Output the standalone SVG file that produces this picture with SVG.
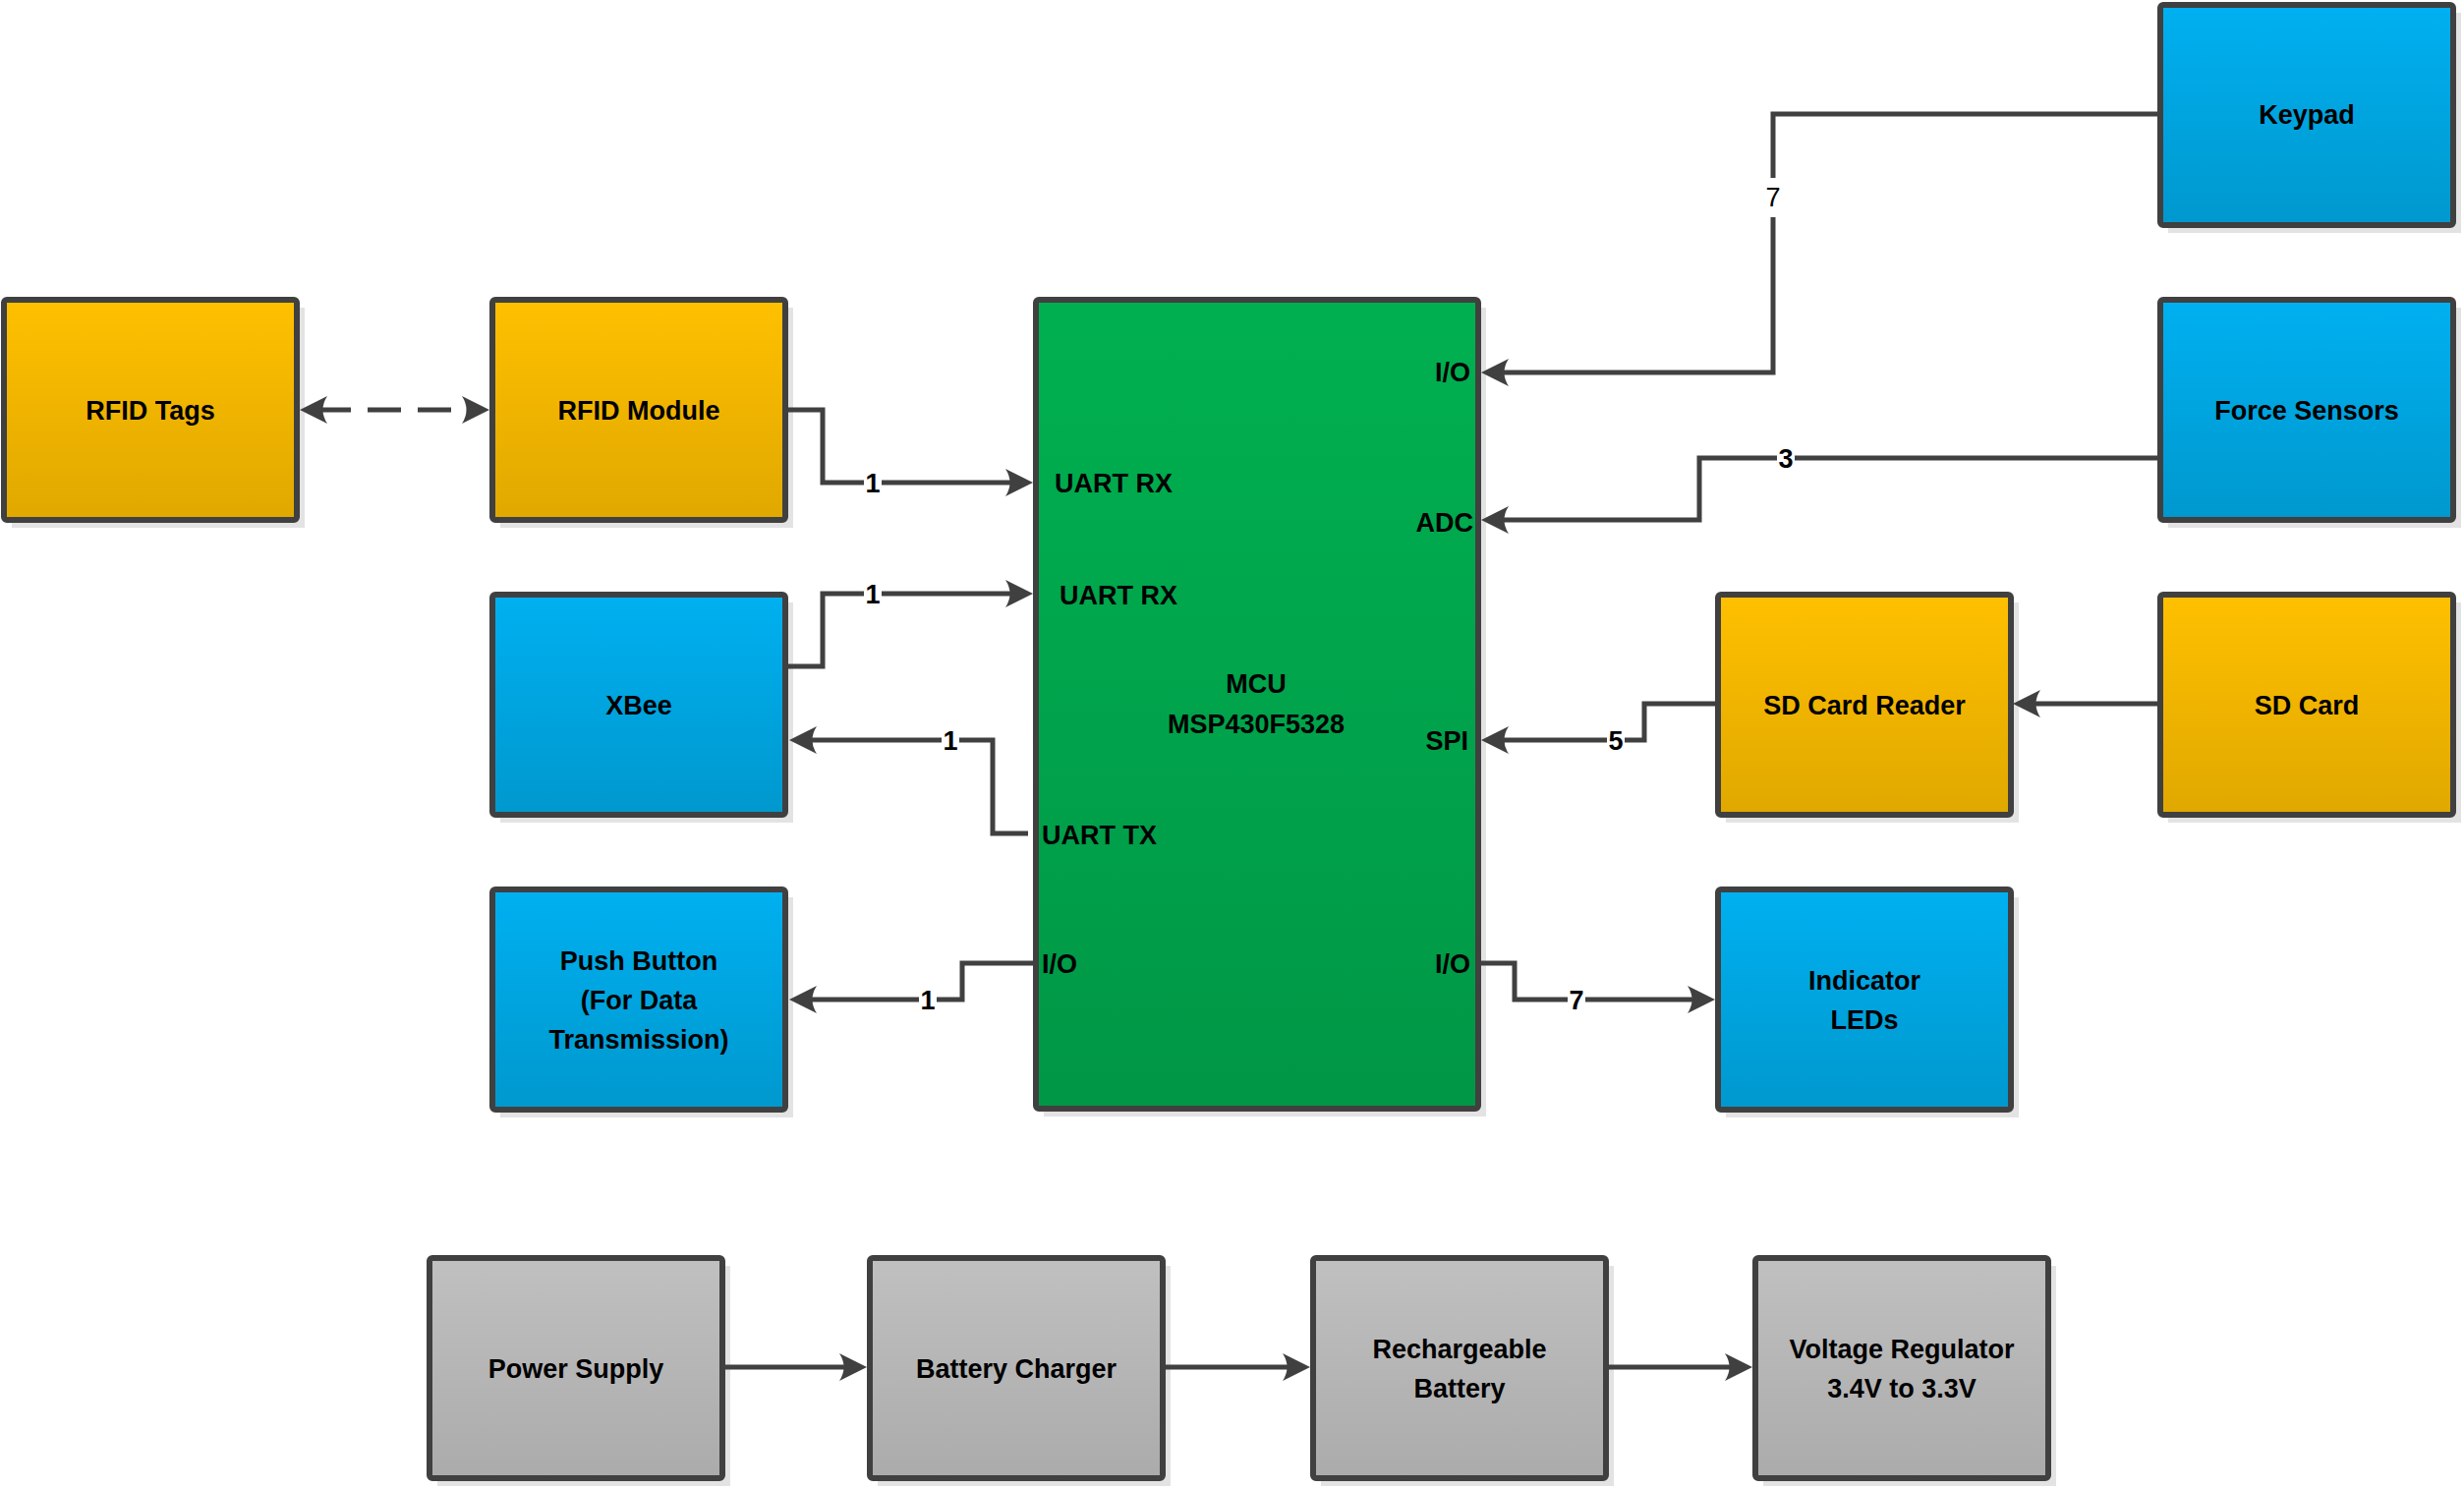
<svg xmlns="http://www.w3.org/2000/svg" width="2507" height="1514" viewBox="0 0 2507 1514">
<style>
  .box { stroke: #404040; stroke-width: 6; }
  .shadow { fill: #e3e3e3; }
  .orange { fill: url(#gOrange); }
  .blue { fill: url(#gBlue); }
  .green { fill: url(#gGreen); }
  .gray { fill: url(#gGray); }
  .lbl { font-family: "Liberation Sans", Arial, sans-serif; font-weight: bold; font-size: 27px; fill: #000; text-anchor: middle; }
  .pin { font-family: "Liberation Sans", Arial, sans-serif; font-weight: bold; font-size: 27px; fill: #000; }
  .num { font-family: "Liberation Sans", Arial, sans-serif; font-weight: bold; font-size: 27px; fill: #000; text-anchor: middle; }
  .conn { fill: none; stroke: #404040; stroke-width: 5; }
  .dash { stroke-dasharray: 34 17; }
  .nbg { fill: #fff; }
</style>
<defs>
  <linearGradient id="gOrange" x1="0" y1="0" x2="0" y2="1"><stop offset="0" stop-color="#FFC000"/><stop offset="1" stop-color="#E0A800"/></linearGradient>
  <linearGradient id="gBlue" x1="0" y1="0" x2="0" y2="1"><stop offset="0" stop-color="#00B0F0"/><stop offset="1" stop-color="#0098CE"/></linearGradient>
  <linearGradient id="gGreen" x1="0" y1="0" x2="0" y2="1"><stop offset="0" stop-color="#00B050"/><stop offset="1" stop-color="#009746"/></linearGradient>
  <linearGradient id="gGray" x1="0" y1="0" x2="0" y2="1"><stop offset="0" stop-color="#C0C0C0"/><stop offset="1" stop-color="#ABABAB"/></linearGradient>
  <marker id="arr" markerUnits="userSpaceOnUse" markerWidth="30" markerHeight="30" viewBox="0 0 30 30" refX="10" refY="15" orient="auto-start-reverse">
    <path d="M28,15 L0,1 Q9,15 0,29 Z" fill="#404040"/>
  </marker>
</defs>

<g id="rfid-tags">
  <rect class="shadow" x="12" y="313" width="298" height="224"/>
  <rect class="box orange" x="4" y="305" width="298" height="224" rx="3"/>
  <text class="lbl" x="153" y="427">RFID Tags</text>
</g>
<g id="rfid-module">
  <rect class="shadow" x="509" y="313" width="298" height="224"/>
  <rect class="box orange" x="501" y="305" width="298" height="224" rx="3"/>
  <text class="lbl" x="650" y="427">RFID Module</text>
</g>
<g id="xbee">
  <rect class="shadow" x="509" y="613" width="298" height="224"/>
  <rect class="box blue" x="501" y="605" width="298" height="224" rx="3"/>
  <text class="lbl" x="650" y="727">XBee</text>
</g>
<g id="push-button">
  <rect class="shadow" x="509" y="913" width="298" height="224"/>
  <rect class="box blue" x="501" y="905" width="298" height="224" rx="3"/>
  <text class="lbl" x="650" y="987">Push Button</text>
  <text class="lbl" x="650" y="1027">(For Data</text>
  <text class="lbl" x="650" y="1067">Transmission)</text>
</g>
<g id="mcu">
  <rect class="shadow" x="1062" y="313" width="450" height="823"/>
  <rect class="box green" x="1054" y="305" width="450" height="823" rx="3"/>
  <text class="lbl" x="1278" y="705">MCU</text>
  <text class="lbl" x="1278" y="746">MSP430F5328</text>
  <text class="pin" x="1496" y="388" text-anchor="end">I/O</text>
  <text class="pin" x="1073" y="501">UART RX</text>
  <text class="pin" x="1499" y="541" text-anchor="end">ADC</text>
  <text class="pin" x="1078" y="615">UART RX</text>
  <text class="pin" x="1494" y="763" text-anchor="end">SPI</text>
  <text class="pin" x="1060" y="859">UART TX</text>
  <text class="pin" x="1060" y="990">I/O</text>
  <text class="pin" x="1496" y="990" text-anchor="end">I/O</text>
</g>
<g id="keypad">
  <rect class="shadow" x="2206" y="13" width="298" height="224"/>
  <rect class="box blue" x="2198" y="5" width="298" height="224" rx="3"/>
  <text class="lbl" x="2347" y="126">Keypad</text>
</g>
<g id="force-sensors">
  <rect class="shadow" x="2206" y="313" width="298" height="224"/>
  <rect class="box blue" x="2198" y="305" width="298" height="224" rx="3"/>
  <text class="lbl" x="2347" y="427">Force Sensors</text>
</g>
<g id="sd-card-reader">
  <rect class="shadow" x="1756" y="613" width="298" height="224"/>
  <rect class="box orange" x="1748" y="605" width="298" height="224" rx="3"/>
  <text class="lbl" x="1897" y="727">SD Card Reader</text>
</g>
<g id="sd-card">
  <rect class="shadow" x="2206" y="613" width="298" height="224"/>
  <rect class="box orange" x="2198" y="605" width="298" height="224" rx="3"/>
  <text class="lbl" x="2347" y="727">SD Card</text>
</g>
<g id="indicator-leds">
  <rect class="shadow" x="1756" y="913" width="298" height="224"/>
  <rect class="box blue" x="1748" y="905" width="298" height="224" rx="3"/>
  <text class="lbl" x="1897" y="1007">Indicator</text>
  <text class="lbl" x="1897" y="1047">LEDs</text>
</g>
<g id="power-supply">
  <rect class="shadow" x="445" y="1288" width="298" height="224"/>
  <rect class="box gray" x="437" y="1280" width="298" height="224" rx="3"/>
  <text class="lbl" x="586" y="1402">Power Supply</text>
</g>
<g id="battery-charger">
  <rect class="shadow" x="893" y="1288" width="298" height="224"/>
  <rect class="box gray" x="885" y="1280" width="298" height="224" rx="3"/>
  <text class="lbl" x="1034" y="1402">Battery Charger</text>
</g>
<g id="rechargeable-battery">
  <rect class="shadow" x="1344" y="1288" width="298" height="224"/>
  <rect class="box gray" x="1336" y="1280" width="298" height="224" rx="3"/>
  <text class="lbl" x="1485" y="1382">Rechargeable</text>
  <text class="lbl" x="1485" y="1422">Battery</text>
</g>
<g id="voltage-regulator">
  <rect class="shadow" x="1794" y="1288" width="298" height="224"/>
  <rect class="box gray" x="1786" y="1280" width="298" height="224" rx="3"/>
  <text class="lbl" x="1935" y="1382">Voltage Regulator</text>
  <text class="lbl" x="1935" y="1422">3.4V to 3.3V</text>
</g>

<g id="connectors">
  <path class="conn dash" d="M323,417 H480" marker-start="url(#arr)" marker-end="url(#arr)"/>
  <path class="conn" d="M802,417 H837 V491 H1033" marker-end="url(#arr)"/>
  <path class="conn" d="M802,678 H837 V604 H1033" marker-end="url(#arr)"/>
  <path class="conn" d="M1046,848 H1010 V753 H821" marker-end="url(#arr)"/>
  <path class="conn" d="M1051,980 H979 V1017 H821" marker-end="url(#arr)"/>
  <path class="conn" d="M2195,116 H1804 V379 H1525" marker-end="url(#arr)"/>
  <path class="conn" d="M2195,466 H1729 V529 H1525" marker-end="url(#arr)"/>
  <path class="conn" d="M1745,716 H1673 V753 H1525" marker-end="url(#arr)"/>
  <path class="conn" d="M2195,716 H2066" marker-end="url(#arr)"/>
  <path class="conn" d="M1507,980 H1541 V1017 H1727" marker-end="url(#arr)"/>
  <path class="conn" d="M736,1391 H864" marker-end="url(#arr)"/>
  <path class="conn" d="M1184,1391 H1315" marker-end="url(#arr)"/>
  <path class="conn" d="M1635,1391 H1765" marker-end="url(#arr)"/>
  <g id="conn-labels">
    <rect class="nbg" x="879" y="476" width="18" height="30"/><text class="num" x="888" y="501">1</text>
    <rect class="nbg" x="879" y="589" width="18" height="30"/><text class="num" x="888" y="614">1</text>
    <rect class="nbg" x="958" y="738" width="18" height="30"/><text class="num" x="967" y="763">1</text>
    <rect class="nbg" x="935" y="1002" width="18" height="30"/><text class="num" x="944" y="1027">1</text>
    <rect class="nbg" x="1794" y="181" width="20" height="40"/><text class="num" x="1804" y="210" style="font-weight:normal">7</text>
    <rect class="nbg" x="1808" y="451" width="18" height="30"/><text class="num" x="1817" y="476">3</text>
    <rect class="nbg" x="1635" y="738" width="18" height="30"/><text class="num" x="1644" y="763">5</text>
    <rect class="nbg" x="1595" y="1002" width="18" height="30"/><text class="num" x="1604" y="1027">7</text>
  </g>
</g>
</svg>
